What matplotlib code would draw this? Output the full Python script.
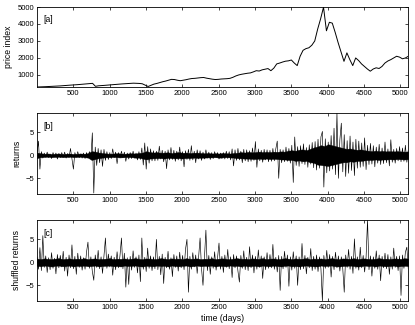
import numpy as np
import matplotlib
matplotlib.use("Agg")
import matplotlib.pyplot as plt

# ---------------- data ----------------
price_index = [
    290, 295, 300, 310, 318, 325, 335, 345, 355, 370, 380, 395, 405, 415, 430, 445,
    460, 475, 490, 505, 330, 360, 370, 385, 400, 415, 430, 445, 455, 470, 480, 490,
    505, 515, 510, 500, 480, 400, 320, 390, 460, 500, 550, 600, 640, 690, 740, 730,
    690, 660, 690, 720, 760, 790, 800, 820, 840, 850, 810, 780, 750, 730, 740, 760,
    770, 780, 800, 860, 940, 1000, 1040, 1070, 1100, 1120, 1180, 1250, 1230, 1300, 1340, 1375,
    1250, 1400, 1650, 1700, 1760, 1810, 1830, 1880, 1700, 1550, 2100, 2450, 2550, 2600, 2750, 3000,
    3700, 4300, 4990, 3600, 4100, 4050, 3500, 2900, 2350, 1800, 2300, 1900, 1550, 2000, 1850, 1650,
    1500, 1350, 1220, 1350, 1420, 1380, 1500, 1700, 1820, 1900, 2000, 2100, 2050, 1950, 2000, 2100,
]

returns = [
    0.4, 3.1, -3.0, 0.8, -0.6, 0.5, -0.4, 0.7, -0.5, 0.3, -0.7, 0.6, -0.3, 0.5, -0.8, 0.4,
    -0.5, 0.6, -0.4, 0.7, -0.6, 0.4, -0.5, 1.5, -0.7, -3.0, 0.6, -0.4, 0.8, -0.5, 0.3, -0.6,
    0.5, -0.7, 0.6, -0.4, 0.8, -0.6, 4.9, -8.2, 1.8, -2.2, 1.5, -1.6, 1.2, -2.4, 1.3, -1.1,
    0.8, -0.9, 0.6, -0.7, 1.4, -0.5, 0.7, -1.8, 0.6, -0.6, 0.9, -0.5, 0.7, -1.3, 0.5, -0.8,
    0.6, -0.7, 0.9, -0.6, 0.5, -1.0, 0.8, -0.9, 1.6, -2.1, 2.7, -3.0, 1.9, -1.7, 1.4, -1.2,
    1.0, -1.2, 0.9, -1.1, 2.0, -0.8, 1.1, -1.4, 0.9, -2.9, 1.2, -1.0, 1.7, -0.9, 1.1, -1.3,
    0.9, -1.0, 1.8, -1.2, 0.8, -2.5, 1.0, -0.9, 1.3, -1.1, 2.1, -1.0, 0.9, -1.6, 1.2, -0.8,
    1.0, -1.1, 0.7, -0.8, 1.2, -0.6, 0.7, -0.9, 0.6, -0.7, 0.8, -0.5, 0.6, -0.8, 0.5, -0.7,
    0.6, -0.8, 0.9, -0.7, 0.8, -1.0, 1.4, -2.3, 1.2, -1.1, 1.5, -1.0, 0.9, -1.6, 1.3, -1.2,
    1.2, -1.4, 1.0, -1.3, 1.6, -1.1, 3.0, -2.6, 1.4, -1.2, 1.1, -1.5, 1.3, -1.0, 1.2, -1.4,
    1.1, -1.3, 1.5, -1.2, 1.4, 3.1, -5.0, 1.3, -1.6, 1.2, -1.4, 1.8, -1.3, 1.5, -1.7, 2.2,
    -5.9, 4.0, -2.2, 1.9, -2.4, 2.1, -1.8, 2.5, -2.0, 1.7, -2.6, 2.3, -1.9, 2.8, -2.7, 3.0,
    -3.2, 3.5, -2.8, 4.0, 5.2, -6.9, 3.6, -3.8, 2.9, -3.4, 4.3, -3.0, 5.9, -4.2, 9.2, -5.0,
    3.4, 7.0, -3.6, 4.5, -4.6, 3.2, -3.9, 4.2, -3.3, 2.9, -4.4, 3.5, -2.8, 3.1, -2.6, 2.7,
    -2.4, 3.8, -3.1, 2.2, -2.0, 2.6, -1.9, 2.1, -2.5, 1.8, -1.7, 2.4, -2.0, 1.6, -1.8, 2.9,
    -1.6, 1.4, -2.3, 3.4, -1.5, 1.3, -1.7, 1.5, -1.2, 1.9, -1.4, 1.6, -1.3, 2.2, -1.5, 1.2,
]

shuffled_returns = [
    1.2, -1.5, 3.2, -1.8, 5.8, -1.1, 1.4, -2.2, 1.0, -1.6, 2.1, -1.3, 0.9, -2.5, 1.7, -1.2,
    1.5, -1.0, 2.4, -1.9, 1.1, -3.0, 1.6, -1.2, 3.8, -1.4, 1.3, -2.6, 2.0, -1.1, 1.4, -1.7,
    1.0, -1.5, 2.2, 4.4, -1.3, 1.2, -2.0, -3.9, 1.6, -1.1, 2.6, -1.4, 1.2, -2.4, 1.5, 5.3,
    -1.3, 1.8, -1.0, 1.4, -2.8, 1.1, -1.6, 2.3, -1.2, 1.5, 5.3, -1.4, 2.0, -5.4, 1.0, -4.8,
    1.3, -1.7, 2.5, -1.1, 1.2, -2.3, 1.6, -4.2, 5.3, -1.5, 1.1, -2.0, 3.1, -1.3, 1.4, -1.8,
    1.2, -1.4, 5.0, -1.6, 1.3, -2.7, 1.8, -4.6, 1.1, -1.2, 2.4, -1.5, 1.0, -3.1, 1.7, -1.1,
    1.4, -1.9, 2.2, -1.2, 1.5, -1.6, 2.9, 5.0, -6.5, 1.3, -1.5, 2.1, -1.0, 1.6, -2.4, 1.2,
    5.3, -1.4, -5.0, 1.1, 7.0, -1.8, 1.5, -2.6, 1.2, -1.3, 2.3, -1.7, 1.0, 4.2, -1.5, 1.3,
    -2.2, 1.6, -1.1, 2.8, -1.4, 1.2, -3.3, 1.7, -1.2, 1.4, -1.9, -4.3, 1.5, -1.3, 2.5, -1.6,
    1.1, -1.8, 3.4, -1.2, 1.6, -2.3, 1.3, -1.5, 2.7, -1.1, 1.4, -3.5, 1.2, -1.6, 2.1, -1.3,
    1.7, -1.2, 3.9, -1.5, 1.1, -2.1, 1.5, -6.1, 1.3, -1.4, 2.4, -1.1, 1.6, -5.2, 1.2, -1.7,
    2.3, -1.3, 1.4, -5.0, 1.2, -1.6, 4.1, -1.4, 1.5, -2.5, 1.1, -1.2, 3.0, -1.8, 1.3, -1.5,
    1.6, -2.0, 1.2, -1.4, -8.4, 1.5, -1.3, 2.6, -1.1, 1.7, -3.2, 1.3, -1.6, 2.2, -1.2, 1.4,
    -1.9, 1.2, -1.4, -6.5, 1.6, -1.1, 2.8, -1.5, 1.3, -2.4, 5.1, -1.3, 1.2, -1.7, 3.3, -1.2,
    1.5, -2.1, 1.1, 9.2, -1.6, 1.4, -3.0, 1.2, -1.3, 2.5, -1.5, 1.6, -4.0, 1.3, -1.2, 2.0,
    -1.4, 1.7, -2.6, 1.2, -1.5, 3.1, -1.1, 1.3, -1.8, 1.4, -7.2, 1.6, -1.3, 2.2, 3.3, -1.5,
]

# upper / lower edges of the dense black core of each returns band, every 50 days
core_returns_hi = [
    0.6, 0.45, 0.35, 0.4, 0.3, 0.35, 0.4, 0.3, 0.35, 0.4, 0.3, 0.35, 0.4, 0.35, 0.45, 0.9,
    0.8, 0.6, 0.5, 0.4, 0.35, 0.4, 0.45, 0.4, 0.35, 0.4, 0.45, 0.4, 0.5, 0.6, 0.9, 0.7,
    0.6, 0.7, 0.55, 0.6, 0.65, 0.5, 0.6, 0.7, 0.55, 0.6, 0.5, 0.55, 0.6, 0.5, 0.45, 0.5,
    0.4, 0.45, 0.4, 0.5, 0.45, 0.4, 0.5, 0.55, 0.7, 0.6, 0.75, 0.65, 0.7, 0.8, 0.7, 0.75,
    0.7, 0.8, 0.75, 0.85, 0.8, 1.0, 1.1, 1.0, 1.2, 1.3, 1.1, 1.4, 1.7, 1.9, 2.2, 2.0,
    2.4, 2.2, 2.0, 1.8, 1.6, 1.4, 1.5, 1.3, 1.2, 1.3, 1.1, 1.0, 0.9, 1.0, 0.9, 0.95,
    0.85, 0.9, 0.85, 0.9, 0.85, 0.8, 0.85,
]
core_returns_lo = [
    -0.6, -0.4, -0.35, -0.3, -0.4, -0.35, -0.3, -0.4, -0.35, -0.3, -0.4, -0.35, -0.3, -0.4, -0.5, -1.0,
    -0.8, -0.6, -0.5, -0.4, -0.4, -0.35, -0.4, -0.45, -0.4, -0.35, -0.4, -0.5, -0.5, -0.7, -0.9, -0.7,
    -0.65, -0.6, -0.6, -0.7, -0.55, -0.6, -0.65, -0.6, -0.7, -0.55, -0.6, -0.5, -0.55, -0.5, -0.5, -0.45,
    -0.45, -0.4, -0.5, -0.45, -0.4, -0.45, -0.5, -0.6, -0.65, -0.7, -0.7, -0.75, -0.8, -0.7, -0.8, -0.7,
    -0.8, -0.75, -0.8, -0.9, -0.9, -1.0, -1.0, -1.2, -1.1, -1.3, -1.2, -1.5, -1.6, -2.0, -2.1, -2.2,
    -2.3, -2.1, -1.9, -1.7, -1.5, -1.5, -1.3, -1.4, -1.2, -1.2, -1.1, -1.0, -1.0, -0.9, -1.0, -0.9,
    -0.9, -0.85, -0.9, -0.8, -0.85, -0.9, -0.8,
]
core_shuffled_hi = [
    0.8, 0.7, 0.85, 0.75, 0.7, 0.8, 0.9, 0.7, 0.75, 0.85, 0.7, 0.8, 0.75, 0.9, 0.7, 0.8,
    0.85, 0.7, 0.75, 0.8, 0.9, 0.7, 0.8, 0.75, 0.85, 0.7, 0.8, 0.9, 0.75, 0.7, 0.85, 0.8,
    0.7, 0.75, 0.9, 0.8, 0.7, 0.85, 0.75, 0.8, 0.7, 0.9, 0.75, 0.8, 0.85, 0.7, 0.8, 0.75,
    0.9, 0.7, 0.8, 0.85, 0.75, 0.7, 0.8, 0.9, 0.75, 0.8, 0.7, 0.85, 0.8, 0.75, 0.9, 0.7,
    0.8, 0.85, 0.7, 0.75, 0.9, 0.8, 0.7, 0.85, 0.75, 0.8, 0.9, 0.7, 0.8, 0.75, 0.85, 0.7,
    0.8, 0.9, 0.75, 0.7, 0.85, 0.8, 0.75, 0.9, 0.7, 0.8, 0.85, 0.75, 0.7, 0.8, 0.9, 0.75,
    0.8, 0.7, 0.85, 0.8, 0.75, 0.9, 0.8,
]
core_shuffled_lo = [
    -0.75, -0.85, -0.7, -0.8, -0.9, -0.75, -0.7, -0.85, -0.8, -0.7, -0.9, -0.75, -0.8, -0.7, -0.85, -0.8,
    -0.7, -0.9, -0.8, -0.75, -0.7, -0.85, -0.8, -0.9, -0.7, -0.8, -0.75, -0.7, -0.85, -0.9, -0.75, -0.8,
    -0.85, -0.7, -0.8, -0.75, -0.9, -0.7, -0.8, -0.85, -0.75, -0.7, -0.9, -0.8, -0.7, -0.85, -0.75, -0.8,
    -0.7, -0.9, -0.75, -0.8, -0.85, -0.7, -0.8, -0.75, -0.9, -0.7, -0.85, -0.8, -0.75, -0.9, -0.7, -0.8,
    -0.85, -0.7, -0.8, -0.9, -0.75, -0.7, -0.85, -0.8, -0.9, -0.75, -0.7, -0.8, -0.85, -0.9, -0.7, -0.8,
    -0.75, -0.7, -0.85, -0.9, -0.8, -0.75, -0.7, -0.8, -0.9, -0.85, -0.7, -0.8, -0.75, -0.9, -0.7, -0.8,
    -0.85, -0.8, -0.7, -0.9, -0.8, -0.75, -0.8,
]

n_days = 5110
x_ticks = [500, 1000, 1500, 2000, 2500, 3000, 3500, 4000, 4500, 5000]
price_ticks = [1000, 2000, 3000, 4000, 5000]
ret_ticks = [-5, 0, 5]
ret_tick_labels = ['\u22125', '0', '5']
panel_tags = ["[a]", "[b]", "[c]"]
y_labels = ["price index", "returns", "shuffled returns"]
x_label = "time (days)"

# ---------------- plotting ----------------
plt.rcParams['font.family'] = ['Liberation Sans', 'DejaVu Sans']
TFS = 5.5   # tick labels
LFS = 6.2   # axis labels

fig = plt.figure(figsize=(4.15, 3.25), dpi=100)
W = (408.3 - 37) / 415
L = 37 / 415
rects = [
    [L, 1 - 87 / 325, W, 80 / 325],
    [L, 1 - 194 / 325, W, 81 / 325],
    [L, 1 - 301 / 325, W, 81 / 325],
]
series = [price_index, returns, shuffled_returns]
cores = [None, (core_returns_lo, core_returns_hi), (core_shuffled_lo, core_shuffled_hi)]
all_ret = np.array(returns + shuffled_returns)
ret_lim = (all_ret.min(), all_ret.max())

for k, (rect, y) in enumerate(zip(rects, series)):
    ax = fig.add_axes(rect)
    y = np.asarray(y, dtype=float)
    x = np.linspace(0, n_days, len(y))
    if cores[k] is not None:
        lo = np.asarray(cores[k][0], dtype=float)
        hi = np.asarray(cores[k][1], dtype=float)
        xc = np.linspace(0, n_days, len(lo))
        ax.fill_between(xc, lo, hi, color='black', lw=0.3, edgecolor='black')
        ax.plot(x, y, color='black', lw=0.45)
    else:
        ax.plot(x, y, color='black', lw=0.7)
    ax.set_xlim(0, n_days)
    if k == 0:
        ax.set_ylim(y.min(), y.max())
        ax.set_yticks(price_ticks)
    else:
        ax.set_ylim(*ret_lim)
        ax.set_yticks(ret_ticks)
        ax.set_yticklabels(ret_tick_labels)
    ax.set_xticks(x_ticks)
    ax.tick_params(direction='in', top=True, right=True, length=2.5, width=0.5,
                   labelsize=TFS, pad=2)
    for s in ax.spines.values():
        s.set_linewidth(0.6)
    ax.set_ylabel(y_labels[k], fontsize=LFS, labelpad=3)
    ax.text(6 / 372, 1 - 13 / 80, panel_tags[k], transform=ax.transAxes,
            fontsize=LFS, va='center', ha='left')
    if k == 2:
        ax.set_xlabel(x_label, fontsize=LFS, labelpad=2)

fig.savefig("out.png", dpi=100)
